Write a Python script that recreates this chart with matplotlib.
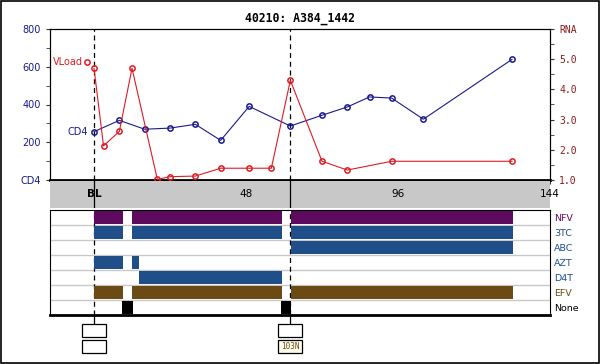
import matplotlib
matplotlib.use("Agg")
import matplotlib.pyplot as plt
import matplotlib.transforms as mtransforms
from matplotlib.patches import Rectangle
import numpy as np

title = "40210: A384_1442"

# CD4 counts (weeks, cells)
cd4_weeks = [0, 8, 16, 24, 32, 40, 49, 62, 72, 80, 87, 94, 104, 132]
cd4_vals = [256, 316, 269, 275, 295, 210, 390, 286, 343, 387, 440, 434, 322, 639]

# viral load, log10 RNA
rna_weeks = [0, 3, 8, 12, 20, 24, 32, 40, 49, 56, 62, 72, 80, 94, 132]
rna_vals = [4.70, 2.13, 2.61, 4.70, 1.02, 1.11, 1.13, 1.39, 1.39, 1.39, 4.30, 1.62, 1.33, 1.62, 1.62]

# drug regimen segments (start, end) in weeks
drugs = ['NFV', '3TC', 'ABC', 'AZT', 'D4T', 'EFV', 'None']
drug_segments = {
    'NFV': [(0, 9.2), (12.1, 59.4), (62.1, 132.2)],
    '3TC': [(0, 9.2), (12.1, 59.4), (62.1, 132.2)],
    'ABC': [(62.1, 132.2)],
    'AZT': [(0, 9.2), (12.1, 14.2)],
    'D4T': [(14.2, 59.4)],
    'EFV': [(0, 9.2), (12.1, 59.4), (62.1, 132.2)],
    'None': [(8.8, 12.3), (59.2, 62.2)],
}
drug_colors = {'NFV': '#5e0a5e', '3TC': '#1f4e89', 'ABC': '#1f4e89', 'AZT': '#1f4e89',
               'D4T': '#1f4e89', 'EFV': '#6b4a14', 'None': '#000000'}

# genotype events
event_weeks = [0, 62]
event_muts = ['', '103N']

xmin, xmax = -13.9, 144
W, H = 600, 364
navy = '#1a1a8c'
dred = '#8b1a1a'
red = '#dd1c24'
ms = 3.8

fig = plt.figure(figsize=(6, 3.64), dpi=100)
fig.patch.set_facecolor('white')
fig.patches.append(Rectangle((0.5 / W, 1.5 / H), 598 / W, 361.5 / H, transform=fig.transFigure,
                             fill=False, edgecolor='black', lw=1.2))

def box(x0, y0, x1, y1):
    return [x0 / W, (H - y1) / H, (x1 - x0) / W, (y1 - y0) / H]

# ---- top panel: CD4 and RNA
ax = fig.add_axes(box(50, 29, 550, 180))
ax.set_xlim(xmin, xmax)
ax.set_ylim(0, 800)
ax.plot(cd4_weeks, cd4_vals, color=navy, lw=0.8, marker='o', ms=ms, mfc='none', mew=1.1, zorder=4)
ax.set_yticks([0, 200, 400, 600, 800], ['CD4', '200', '400', '600', '800'])
ax.set_yticks(np.arange(0, 801, 100), minor=True)
ax.set_xticks(np.arange(-12, 145, 12), [''] * 14)
ax.tick_params(axis='y', which='both', direction='out', length=3, colors='#333333',
               labelcolor=navy, labelsize=7)
ax.tick_params(axis='x', direction='out', length=3, colors='#333333')
for s in ['top', 'left', 'right']:
    ax.spines[s].set_linewidth(0.8)
ax.spines['bottom'].set_linewidth(2)
for w in event_weeks:
    ax.axvline(w, color='black', ls=(0, (4, 3)), lw=0.9, zorder=1)
ax.annotate('CD4', (cd4_weeks[0], cd4_vals[0]), xytext=(-4.3, 0), textcoords='offset points',
            ha='right', va='center', color=navy, fontsize=7)
ax.set_title(title, fontsize=8.3, fontweight='bold', family='DejaVu Sans Mono', pad=5)

ax2 = ax.twinx()
ax2.set_ylim(1, 6)
ax2.plot(rna_weeks, rna_vals, color=red, lw=0.8, marker='o', ms=ms, mfc='none', mew=1.1, zorder=4)
ax2.set_yticks([1, 2, 3, 4, 5, 6], ['1.0', '2.0', '3.0', '4.0', '5.0', 'RNA'])
ax2.set_yticks(np.arange(1, 6.01, 0.5), minor=True)
ax2.tick_params(axis='y', which='both', direction='out', length=3, colors='#333333',
                labelcolor=dred, labelsize=7)
for lbl in ax2.get_yticklabels():
    lbl.set_family('DejaVu Sans Mono')
ax2.spines['bottom'].set_visible(False)
# legend-style marker next to the VLoad label
off = mtransforms.offset_copy(ax2.transData, fig=fig, x=-7.4, y=6.3, units='dots')
ax2.plot(rna_weeks[:1], rna_vals[:1], color=red, marker='o', ms=ms,
         mfc='none', mew=1.1, transform=off, ls='none', clip_on=False)
ax2.annotate('VLoad', (rna_weeks[0], rna_vals[0]), xytext=(-8.0, 4.5), textcoords='offset points',
             ha='right', va='center', color=red, fontsize=7)

# ---- gray week band
axb = fig.add_axes(box(50, 181, 550, 208))
axb.set_facecolor('#c8c8c8')
axb.set_xlim(xmin, xmax)
axb.set_ylim(0, 1)
for s in axb.spines.values():
    s.set_visible(False)
axb.set_yticks([])
axb.set_xticks([0, 48, 96, 144], ['BL', '48', '96', '144'])
axb.tick_params(axis='x', length=0, pad=-10, labelsize=7.5)
for lbl in axb.get_xticklabels():
    lbl.set_va('center')
axb.get_xticklabels()[0].set_fontweight('bold')
for w in event_weeks:
    axb.axvline(w, color='black', lw=0.9)

# ---- drug panel
axd = fig.add_axes(box(50, 210, 550, 315))
axd.set_xlim(xmin, xmax)
axd.set_ylim(len(drugs), 0)
for i in range(1, len(drugs)):
    axd.axhline(i, color='#c8c8c8', lw=1, zorder=1)
for w in event_weeks:
    axd.axvline(w, color='black', ls=(0, (4, 3)), lw=0.9, zorder=1)
for i, d in enumerate(drugs):
    for a, b in drug_segments[d]:
        axd.barh(i + 0.5, b - a, left=a, height=0.88, color=drug_colors[d], zorder=2)
axd.set_xticks([])
axd.yaxis.tick_right()
axd.set_yticks(np.arange(len(drugs)) + 0.5, drugs)
axd.tick_params(axis='y', length=0, pad=3, labelsize=6.8)
for lbl, d in zip(axd.get_yticklabels(), drugs):
    lbl.set_color(drug_colors[d])
for s in ['top', 'left', 'right']:
    axd.spines[s].set_linewidth(0.8)
axd.spines['bottom'].set_linewidth(2)

# ---- genotype boxes
axg = fig.add_axes(box(50, 316, 550, 362))
axg.set_xlim(xmin, xmax)
axg.set_ylim(46, 0)
axg.axis('off')
for w, m in zip(event_weeks, event_muts):
    axg.vlines(w, 0, 8, color='black', lw=0.9)
    axg.add_patch(Rectangle((w - 3.75, 8), 7.5, 13.3, fill=False, edgecolor='black', lw=0.9))
    fc = '#fffcee' if m else 'none'
    axg.add_patch(Rectangle((w - 3.75, 24), 7.5, 13.3, facecolor=fc, edgecolor='black', lw=0.9))
    if m:
        axg.text(w, 30.7, m, ha='center', va='center', fontsize=5.5, color='#6b4a14',
                 family='DejaVu Sans Mono')

fig.savefig('out.png', dpi=100)
